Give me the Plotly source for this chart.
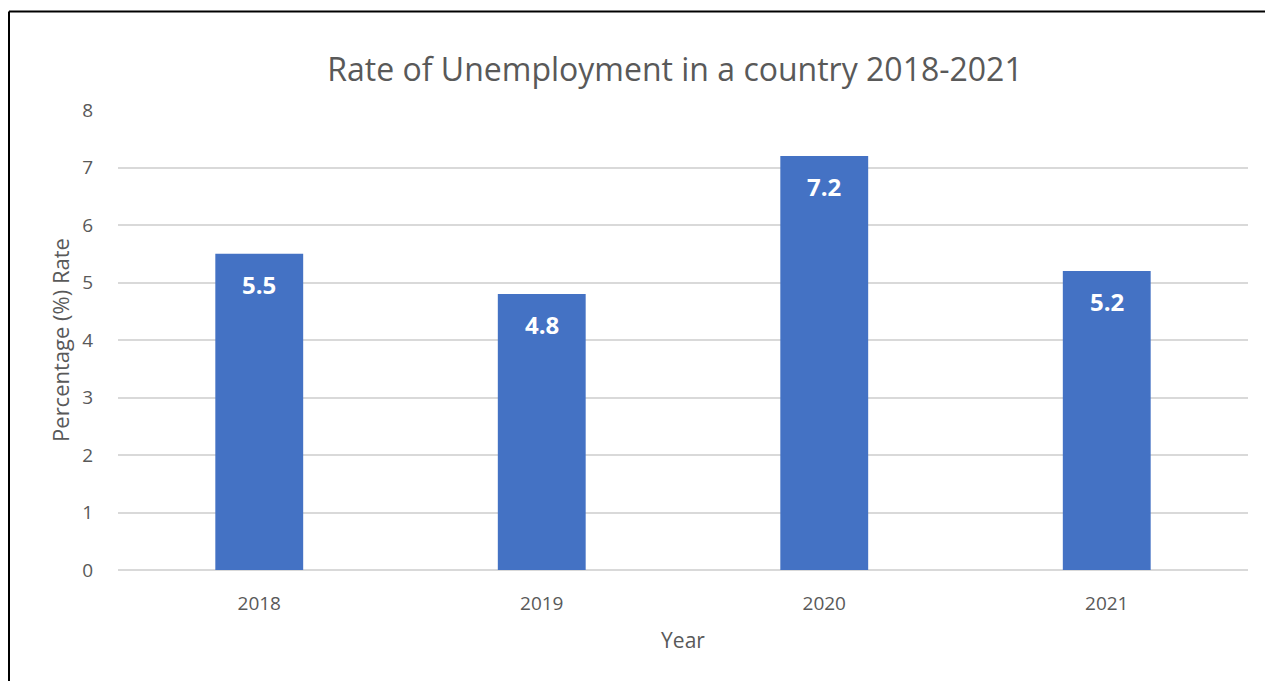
import plotly.graph_objects as go

years = ["2018", "2019", "2020", "2021"]
rates = [5.5, 4.8, 7.2, 5.2]
y_ticks = [0, 1, 2, 3, 4, 5, 6, 7, 8]

FONT = "Open Sans"
GREY = "#595959"

fig = go.Figure(go.Bar(
    x=years, y=rates,
    marker=dict(color="#4472C4", line=dict(width=0)),
    hoverinfo="x+y",
))

# category axis: annotation x given as category index
annotations = [
    dict(x=i, y=v, xref="x", yref="y", text=f"<b>{v:.1f}</b>", showarrow=False,
         yanchor="top", yshift=-12,
         font=dict(family=FONT, size=24, color="white"))
    for i, v in enumerate(rates)
]

fig.update_layout(
    width=1265, height=681,
    margin=dict(l=118, r=17, t=110, b=111),
    paper_bgcolor="white", plot_bgcolor="white",
    bargap=0.689,
    showlegend=False,
    annotations=annotations,
    title=dict(text="Rate of Unemployment in a country 2018-2021",
               x=675/1265, xanchor="center", y=1-70/681, yanchor="middle",
               font=dict(family=FONT, size=32, color=GREY)),
    xaxis=dict(type="category", categoryorder="array", categoryarray=years,
               title=dict(text="Year", font=dict(family=FONT, size=21, color=GREY), standoff=18),
               tickfont=dict(family=FONT, size=19, color=GREY),
               showgrid=False, showline=False, ticks="", ticklabelstandoff=20),
    yaxis=dict(title=dict(text="Percentage (%) Rate", font=dict(family=FONT, size=22, color=GREY), standoff=6),
               tickfont=dict(family=FONT, size=19, color=GREY),
               range=[0, 8], tickvals=y_ticks, showgrid=True, gridcolor="#D9D9D9", gridwidth=1.5,
               zeroline=True, zerolinecolor="#D9D9D9", zerolinewidth=1.5,
               showline=False, ticks="", ticklabelstandoff=24),
    shapes=[
        dict(type="line", xref="paper", yref="paper",
             x0=(9-118)/1130, x1=(9-118)/1130, y0=(570-11.5)/460, y1=(570-700)/460,
             line=dict(color="black", width=2)),
        dict(type="line", xref="paper", yref="paper",
             x0=(9-118)/1130, x1=(1300-118)/1130, y0=(570-11.5)/460, y1=(570-11.5)/460,
             line=dict(color="black", width=2)),
    ],
)

fig.write_html("out.html")
